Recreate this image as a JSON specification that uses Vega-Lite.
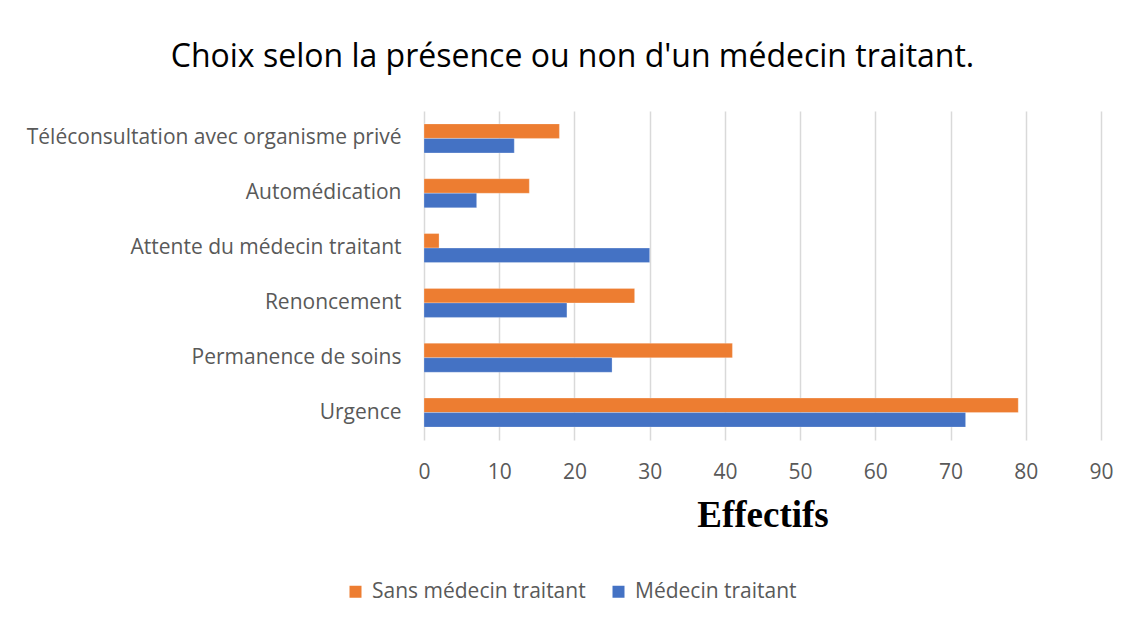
{
  "$schema": "https://vega.github.io/schema/vega-lite/v6.json",
  "width": 677,
  "height": 329,
  "autosize": {"type": "none"},
  "padding": {"left": 424, "top": 111, "right": 30, "bottom": 181},
  "background": "white",
  "title": {
    "text": "Choix selon la présence ou non d'un médecin traitant.",
    "font": "Open Sans",
    "fontSize": 32,
    "fontWeight": "normal",
    "color": "#000000",
    "anchor": "middle",
    "frame": "group",
    "dx": -190,
    "offset": 37
  },
  "data": {
    "values": [
      {"categorie": "Téléconsultation avec organisme privé", "serie": "Sans médecin traitant", "effectif": 18},
      {"categorie": "Téléconsultation avec organisme privé", "serie": "Médecin traitant", "effectif": 12},
      {"categorie": "Automédication", "serie": "Sans médecin traitant", "effectif": 14},
      {"categorie": "Automédication", "serie": "Médecin traitant", "effectif": 7},
      {"categorie": "Attente du médecin traitant", "serie": "Sans médecin traitant", "effectif": 2},
      {"categorie": "Attente du médecin traitant", "serie": "Médecin traitant", "effectif": 30},
      {"categorie": "Renoncement", "serie": "Sans médecin traitant", "effectif": 28},
      {"categorie": "Renoncement", "serie": "Médecin traitant", "effectif": 19},
      {"categorie": "Permanence de soins", "serie": "Sans médecin traitant", "effectif": 41},
      {"categorie": "Permanence de soins", "serie": "Médecin traitant", "effectif": 25},
      {"categorie": "Urgence", "serie": "Sans médecin traitant", "effectif": 79},
      {"categorie": "Urgence", "serie": "Médecin traitant", "effectif": 72}
    ]
  },
  "mark": {"type": "bar", "stroke": "white", "strokeWidth": 0.5, "strokeOpacity": 0.5},
  "encoding": {
    "y": {
      "field": "categorie",
      "type": "nominal",
      "sort": ["Téléconsultation avec organisme privé", "Automédication", "Attente du médecin traitant", "Renoncement", "Permanence de soins", "Urgence"],
      "scale": {"paddingInner": 0.47, "paddingOuter": 0.235},
      "axis": {
        "title": null,
        "domain": false,
        "ticks": false,
        "labelFont": "Open Sans",
        "labelFontSize": 21,
        "labelColor": "#595959",
        "labelPadding": 23,
        "labelLimit": 500
      }
    },
    "yOffset": {
      "field": "serie",
      "type": "nominal",
      "sort": ["Sans médecin traitant", "Médecin traitant"]
    },
    "x": {
      "field": "effectif",
      "type": "quantitative",
      "scale": {"domain": [0, 90], "nice": false},
      "axis": {
        "title": "Effectifs",
        "titleFont": "Liberation Serif",
        "titleFontSize": 37,
        "titleFontWeight": "bold",
        "titleColor": "#000000",
        "titlePadding": 15,
        "values": [0, 10, 20, 30, 40, 50, 60, 70, 80, 90],
        "domain": false,
        "ticks": false,
        "grid": true,
        "gridColor": "#d9d9d9",
        "gridWidth": 1.5,
        "labelFont": "Open Sans",
        "labelFontSize": 21,
        "labelColor": "#595959",
        "labelPadding": 21,
        "labelFlush": false
      }
    },
    "color": {
      "field": "serie",
      "type": "nominal",
      "scale": {"domain": ["Sans médecin traitant", "Médecin traitant"], "range": ["#ED7D31", "#4472C4"]},
      "legend": {
        "title": null,
        "orient": "none",
        "direction": "horizontal",
        "legendX": -79,
        "legendY": 470,
        "symbolType": "square",
        "symbolSize": 144,
        "symbolStrokeWidth": 0,
        "labelFont": "Open Sans",
        "labelFontSize": 21,
        "labelColor": "#595959",
        "labelOffset": 6,
        "labelLimit": 400,
        "columnPadding": 22
      }
    }
  },
  "config": {
    "view": {"stroke": null}
  }
}
